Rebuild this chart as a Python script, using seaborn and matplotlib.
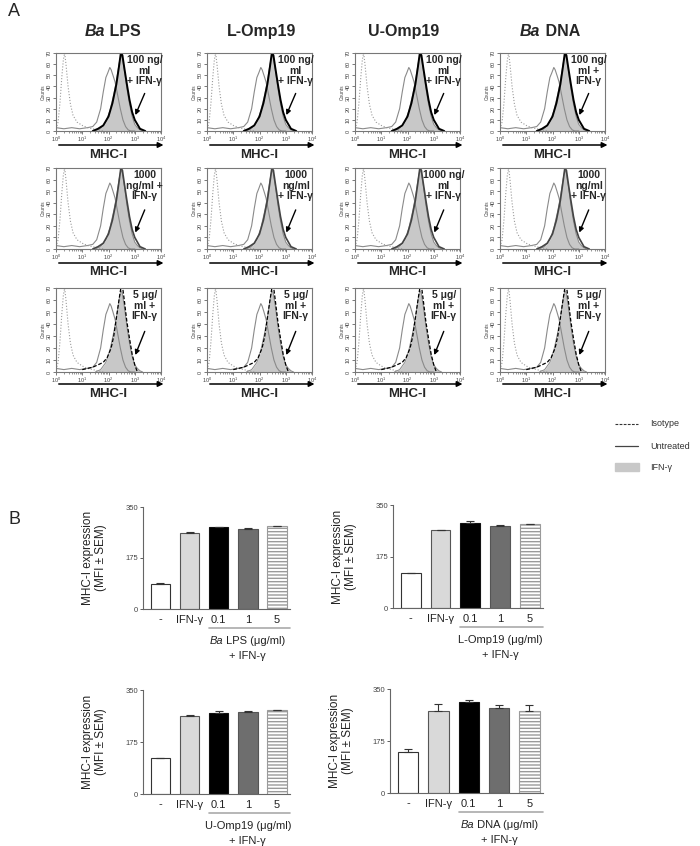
import numpy as np
import matplotlib
matplotlib.use('Agg')
import matplotlib.pyplot as plt
import seaborn as sns
from matplotlib.lines import Line2D
from matplotlib.patches import Rectangle
from matplotlib.ticker import FixedLocator, LogFormatterMathtext, NullFormatter
import matplotlib.transforms as mtrans

# ---- histogram curves (log10 MHC-I intensity, counts) ----
ISO_LOG = [0.0, 0.08, 0.15, 0.22, 0.28, 0.33, 0.38, 0.46, 0.55, 0.65, 0.8, 1.0, 1.2, 1.4, 1.6, 1.8]
ISO_CNT = [2, 8, 25, 48, 64, 70, 60, 40, 24, 14, 8, 5, 3, 2, 1, 0]

UNT_LOG = [0.0, 0.3, 0.6, 0.9, 1.2, 1.4, 1.55, 1.7, 1.8, 1.9, 1.97, 2.05, 2.1, 2.17,
           2.25, 2.35, 2.45, 2.55, 2.65, 2.75, 2.85, 3.0]
UNT_CNT = [3, 2, 3, 2, 3, 4, 8, 20, 35, 48, 52, 57, 55, 50, 44, 32, 20, 10, 4, 1, 0, 0]

IFN_LOG = [1.5, 1.7, 1.9, 2.05, 2.2, 2.3, 2.4, 2.47, 2.52, 2.6, 2.7, 2.8, 2.9, 3.0, 3.1, 3.2, 3.3]
IFN_CNT = [0, 2, 8, 18, 33, 45, 60, 68, 66, 55, 38, 24, 13, 6, 3, 1, 0]

TRT_LOG = [1.4, 1.6, 1.8, 2.0, 2.15, 2.3, 2.4, 2.47, 2.53, 2.6, 2.7, 2.8, 2.9, 3.0, 3.1, 3.2, 3.3, 3.4]
TRT_CNT = [0, 2, 5, 13, 25, 42, 58, 70, 68, 57, 42, 28, 17, 10, 6, 2, 1, 0]

DASH_LOG = [1.0, 1.2, 1.4, 1.6, 1.8, 1.95, 2.1, 2.2, 2.3, 2.4, 2.47, 2.53, 2.6, 2.7, 2.8, 2.9, 3.0, 3.1]
DASH_CNT = [2, 3, 4, 6, 8, 12, 20, 30, 45, 60, 70, 72, 60, 42, 28, 15, 6, 0]

COL_TITLES = [[('Ba', 'italic'), (' LPS', 'normal')],
              [('L-Omp19', 'normal')],
              [('U-Omp19', 'normal')],
              [('Ba', 'italic'), (' DNA', 'normal')]]

DOSE_TEXT = [['100 ng/\nml\n+ IFN-γ', '100 ng/\nml\n+ IFN-γ', '100 ng/\nml\n+ IFN-γ', '100 ng/\nml +\nIFN-γ'],
             ['1000\nng/ml +\nIFN-γ', '1000\nng/ml\n+ IFN-γ', '1000 ng/\nml\n+ IFN-γ', '1000\nng/ml\n+ IFN-γ'],
             ['5 μg/\nml +\nIFN-γ'] * 4]

# ---- bar data (MFI +/- SEM) ----
BAR_CATS = ['-', 'IFN-γ', '0.1', '1', '5']
LPS_MFI = [87, 262, 282, 275, 285]
LPS_SEM = [1, 2, 1, 2, 1]
LOMP_MFI = [119, 264, 289, 280, 286]
LOMP_SEM = [1, 2, 7, 1, 1]
UOMP_MFI = [120, 264, 274, 275, 282]
UOMP_SEM = [1, 1, 4, 5, 1]
DNA_MFI = [139, 276, 305, 285, 277]
DNA_SEM = [8, 24, 8, 10, 18]
BAR_AGENTS = [[('Ba', 'italic'), (' LPS (μg/ml)', 'normal')],
              [('L-Omp19 (μg/ml)', 'normal')],
              [('U-Omp19 (μg/ml)', 'normal')],
              [('Ba', 'italic'), (' DNA (μg/ml)', 'normal')]]

BAR_FACES = ['white', '#d9d9d9', 'black', '#6e6e6e', 'white']
BAR_EDGES = ['#333333', '#555555', '#111111', '#555555', '#9a9a9a']

sns.set_theme(style='ticks')
plt.rcParams['font.family'] = ['Liberation Sans', 'DejaVu Sans']
plt.rcParams['hatch.linewidth'] = 1.0

W, H = 700, 846
fig = plt.figure(figsize=(7, 8.46), dpi=100)
renderer = fig.canvas.get_renderer()


def rect(l, t, r, b):
    return [l / W, 1 - b / H, (r - l) / W, (b - t) / H]


def mixed_text(x_px, y_px, parts, **kw):
    texts = [fig.text(0, 0, s, style=st, ha='left', va='center_baseline', **kw) for s, st in parts]
    widths = [t.get_window_extent(renderer).width for t in texts]
    x0 = x_px - sum(widths) / 2
    for t, w in zip(texts, widths):
        t.set_position((x0 / W, 1 - y_px / H))
        x0 += w


# ---------------- panel A: histograms ----------------
HIST_LEFT = [56, 207, 355, 500]
HIST_W = 105
HIST_ROWS = [(53, 131), (168, 249), (288, 372)]
ARROW_GAP = [14, 14, 12]
LABEL_GAP = [24, 23, 22]

for r, (top, bot) in enumerate(HIST_ROWS):
    for c, left in enumerate(HIST_LEFT):
        ax = fig.add_axes(rect(left, top, left + HIST_W, bot))
        ax.fill_between(10 ** np.array(IFN_LOG), IFN_CNT, color='#c8c8c8', lw=0)
        sns.lineplot(x=10 ** np.array(IFN_LOG), y=IFN_CNT, ax=ax, color='#8a8a8a', lw=0.7,
                     sort=False, estimator=None)
        sns.lineplot(x=10 ** np.array(UNT_LOG), y=UNT_CNT, ax=ax, color='#8a8a8a', lw=0.8,
                     sort=False, estimator=None)
        sns.lineplot(x=10 ** np.array(ISO_LOG), y=ISO_CNT, ax=ax, color='#9a9a9a', lw=0.8,
                     linestyle=':', sort=False, estimator=None)
        if r == 0:
            sns.lineplot(x=10 ** np.array(TRT_LOG), y=TRT_CNT, ax=ax, color='black', lw=1.4,
                         sort=False, estimator=None)
        elif r == 1:
            sns.lineplot(x=10 ** np.array(TRT_LOG), y=TRT_CNT, ax=ax, color='#444444', lw=1.2,
                         sort=False, estimator=None)
        else:
            sns.lineplot(x=10 ** np.array(DASH_LOG), y=DASH_CNT, ax=ax, color='black', lw=0.9,
                         dashes=False, linestyle=(0, (3, 1.5)), sort=False, estimator=None)
        ax.set_xscale('log')
        ax.set_xlim(1, 1e4)
        ax.set_ylim(0, 70)
        ax.xaxis.set_major_locator(FixedLocator([1, 10, 100, 1000, 10000]))
        ax.xaxis.set_major_formatter(LogFormatterMathtext())
        ax.xaxis.set_minor_locator(FixedLocator([m * 10 ** d for d in range(4) for m in range(2, 10)]))
        ax.xaxis.set_minor_formatter(NullFormatter())
        ax.set_yticks(range(0, 71, 10))
        ax.set_yticklabels([str(v) for v in range(0, 71, 10)], rotation=90, va='center')
        ax.tick_params(axis='both', which='major', length=2, width=0.5, pad=1, labelsize=4,
                       colors='#444444')
        ax.tick_params(axis='x', which='minor', length=1.2, width=0.4, colors='#444444')
        ax.set_ylabel('Counts', fontsize=3.5, labelpad=1, color='#444444')
        ax.set_xlabel('')
        for sp in ax.spines.values():
            sp.set_color('#777777')
            sp.set_linewidth(0.8)
        ax.text(10 ** 3.38, 68, DOSE_TEXT[r][c], ha='center', va='top', fontsize=7.5,
                fontweight='bold', linespacing=1.05, clip_on=False)
        ax.annotate('', xy=(10 ** 2.98, 12), xytext=(10 ** 3.42, 36),
                    arrowprops=dict(arrowstyle='-|>', color='black', lw=1.0, mutation_scale=7))
        h_px = bot - top
        ax.annotate('', xy=(1.05, -ARROW_GAP[r] / h_px), xytext=(0.0, -ARROW_GAP[r] / h_px),
                    xycoords='axes fraction', annotation_clip=False,
                    arrowprops=dict(arrowstyle='-|>', color='black', lw=1.1, mutation_scale=8))
        fig.text((left + HIST_W / 2) / W, 1 - (bot + LABEL_GAP[r]) / H, 'MHC-I',
                 ha='center', va='center', fontsize=9.5, fontweight='bold')

TITLE_X = [113, 262, 404, 550]
for c, parts in enumerate(COL_TITLES):
    mixed_text(TITLE_X[c], 30, parts, fontsize=11.5, fontweight='bold')

fig.text(8 / W, 1 - 11 / H, 'A', fontsize=13, va='center', ha='left')
fig.text(8 / W, 1 - 519 / H, 'B', fontsize=13, va='center', ha='left')

# legend
fig.add_artist(Line2D([615 / W, 638 / W], [1 - 424 / H] * 2, color='#333333', lw=0.8,
                      linestyle=(0, (2.5, 1.2))))
fig.add_artist(Line2D([615 / W, 638 / W], [1 - 446 / H] * 2, color='#444444', lw=0.9))
fig.add_artist(Rectangle((615 / W, 1 - 471 / H), 24 / W, 8 / H, color='#c8c8c8',
                         transform=fig.transFigure))
for y, lab in [(424, 'Isotype'), (446, 'Untreated'), (467, 'IFN-γ')]:
    fig.text(650 / W, 1 - y / H, lab, fontsize=6.5, va='center', ha='left', color='#333333')

# ---------------- panel B: bar charts ----------------
BAR_RECTS = [(143, 507, 290, 609), (393, 505, 543, 608), (143, 690, 290, 794), (390, 689, 543, 793)]
BAR_SETS = [(LPS_MFI, LPS_SEM), (LOMP_MFI, LOMP_SEM), (UOMP_MFI, UOMP_SEM), (DNA_MFI, DNA_SEM)]

for i, (l, t, r, b) in enumerate(BAR_RECTS):
    ax = fig.add_axes(rect(l, t, r, b))
    vals, sems = BAR_SETS[i]
    sns.barplot(x=BAR_CATS, y=vals, hue=BAR_CATS, palette=BAR_FACES, legend=False,
                saturation=1, width=0.67, ax=ax)
    for p, ec, k in zip(ax.patches, BAR_EDGES, range(5)):
        p.set_edgecolor(ec)
        p.set_linewidth(0.8)
        if k == 4:
            p.set_hatch('-----')
    ax.errorbar(range(5), vals, yerr=[np.zeros(5), sems], fmt='none', ecolor='#333333',
                elinewidth=0.8, capsize=3, capthick=0.8)
    ax.set_xlim(-0.6, 4.45)
    ax.set_ylim(0, 350)
    ax.set_yticks([0, 175, 350])
    ax.tick_params(axis='y', labelsize=5.5, length=2.5, width=0.6, pad=1, colors='#444444')
    ax.tick_params(axis='x', labelsize=8, length=0, pad=4)
    for lab in ax.get_xticklabels():
        lab.set_color('#222222')
    sns.despine(ax=ax)
    for sp in ['left', 'bottom']:
        ax.spines[sp].set_color('#666666')
        ax.spines[sp].set_linewidth(0.8)
    ax.set_ylabel('MHC-I expression\n(MFI ± SEM)', fontsize=8.5, linespacing=1.1,
                  color='#222222')
    ax.yaxis.set_label_coords(-36 / (r - l), 0.5)
    h_px = b - t
    trans = mtrans.blended_transform_factory(ax.transData, ax.transAxes)
    ax.plot([1.665, 4.45], [-19 / h_px] * 2, transform=trans, clip_on=False,
            color='#aaaaaa', lw=1.2)
    cx = ax.transData.transform((3, 0))[0]
    mixed_text(cx, b + 31, BAR_AGENTS[i], fontsize=8, color='#222222')
    mixed_text(cx, b + 46, [('+ IFN-γ', 'normal')], fontsize=8, color='#222222')

fig.savefig('out.png', dpi=100)
